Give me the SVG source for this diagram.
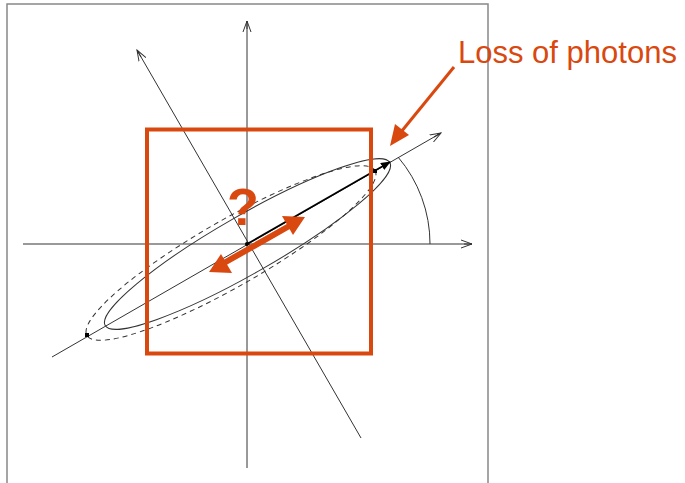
<svg xmlns="http://www.w3.org/2000/svg" width="685" height="483" viewBox="0 0 685 483">
<style>
.ax{stroke:#333;stroke-width:1;fill:none}
.gr{stroke:#777;stroke-width:1.6;fill:none}
.or{fill:#D9480F}
.ors{stroke:#D9480F;fill:none}
.lbl{font-family:"Liberation Sans",Arial,sans-serif;fill:#D9480F}
</style>
<defs>
<marker id="open" viewBox="0 0 12 10" refX="11" refY="5" markerWidth="12" markerHeight="10" markerUnits="userSpaceOnUse" orient="auto">
<path d="M0,1 L11,5 L0,9 M3,5 L11,5" stroke="#333" stroke-width="1" fill="none"/>
</marker>
<marker id="blk" viewBox="0 0 10 8" refX="9" refY="4" markerWidth="10" markerHeight="8" markerUnits="userSpaceOnUse" orient="auto">
<path d="M0,0 L10,4 L0,8 Z" fill="#000"/>
</marker>
</defs>
<g id="frame">
<path d="M7,490 L7,4 L488,4 L488,490" stroke="#888" stroke-width="1.5" fill="none"/>
</g>
<g id="axes">
<line class="gr" x1="23" y1="244" x2="472" y2="244" marker-end="url(#open)"/>
<line class="ax" x1="247" y1="468" x2="247" y2="21" marker-end="url(#open)"/>
<line class="ax" x1="361" y1="438" x2="137" y2="50" marker-end="url(#open)"/>
<line class="ax" x1="52" y1="357" x2="441" y2="133" marker-end="url(#open)"/>
<path class="ax" d="M398,157 A134,134 0 0 1 430,244"/>
</g>
<g id="ellipses">
<ellipse class="ax" cx="247.5" cy="244" rx="164" ry="29" transform="rotate(-29.8 247.5 244)"/>
<ellipse class="ax" cx="231" cy="253" rx="166" ry="33" stroke-dasharray="5,4" transform="rotate(-29.8 231 253)"/>
<line x1="247" y1="244" x2="390" y2="162" stroke="#000" stroke-width="1.6" marker-end="url(#blk)"/>
<rect x="373" y="169" width="4" height="4" fill="#000"/>
<rect x="85" y="333" width="4" height="4" fill="#000"/>
<circle cx="247" cy="244" r="2" fill="#000"/>
</g>
<g id="box">
<rect x="147" y="129.5" width="224" height="224" stroke="#D9480F" stroke-width="4" fill="none"/>
</g>
<g id="double-arrow">
<line class="ors" x1="224" y1="263" x2="291" y2="225" stroke-width="6"/>
<path class="or" d="M305,217 L282,216 L293,235 Z"/>
<path class="or" d="M209,272 L232,273 L221,254 Z"/>
</g>
<g id="question">
<text class="lbl" x="243" y="225" font-size="52" font-weight="bold" text-anchor="middle">?</text>
</g>
<g id="loss">
<line class="ors" x1="454" y1="67" x2="401" y2="132" stroke-width="3"/>
<path class="or" d="M390,146 L395,124 L409,135 Z"/>
<text class="lbl" x="458" y="63" font-size="31">Loss of photons</text>
</g>
</svg>
